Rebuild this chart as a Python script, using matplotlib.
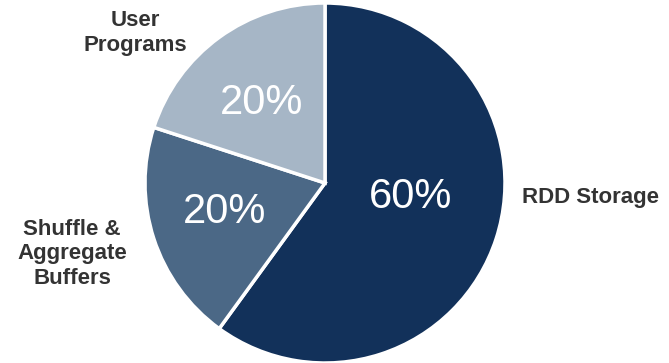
import matplotlib.pyplot as plt

plt.rcParams['font.family'] = ['Liberation Sans', 'DejaVu Sans']

# data
categories = ['RDD Storage', 'Shuffle &\nAggregate\nBuffers', 'User\nPrograms']
shares = [60, 20, 20]
colors = ['#12315a', '#4b6886', '#a6b6c6']

# layout (pixel coords, y up)
W, H = 669, 363
center = (325, H - 183)
radius = 180
pct_pos = [(411, H - 197), (225, H - 212), (262, H - 103)]
label_pos = [(591, H - 198), (72, H - 254), (135, H - 33)]

fig = plt.figure(figsize=(W / 100, H / 100), dpi=100)
ax = fig.add_axes([0, 0, 1, 1])

wedges, _ = ax.pie(shares, colors=colors, startangle=90, counterclock=False,
                   center=center, radius=radius,
                   wedgeprops=dict(edgecolor='white', linewidth=2.5))
ax.set_xlim(0, W)
ax.set_ylim(0, H)
ax.set_aspect('equal')
ax.axis('off')

for s, (x, y) in zip(shares, pct_pos):
    ax.text(x, y, '{}%'.format(s), color='white', fontsize=30,
            ha='center', va='center')

for lab, (x, y) in zip(categories, label_pos):
    ax.text(x, y, lab, color='#333333', fontsize=16, fontweight='bold',
            ha='center', va='center', linespacing=1.2)

fig.savefig('out.png', dpi=100)
